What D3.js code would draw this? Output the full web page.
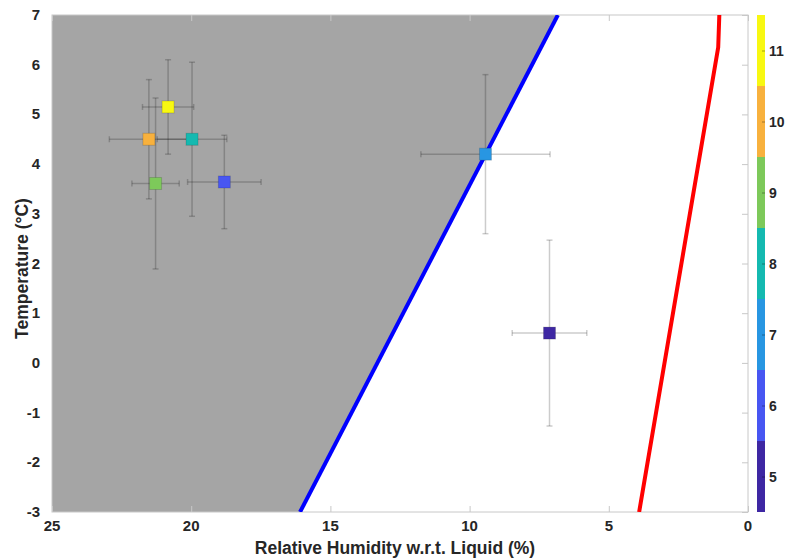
<!DOCTYPE html>
<html lang="en">
<head>
<meta charset="utf-8">
<title>RH vs Temperature</title>
<style>
  body { margin: 0; background: #fff; }
  text { font-family: "Liberation Sans", Arial, Helvetica, sans-serif; font-weight: bold; fill: #262626; }
</style>
</head>
<body>
<div id="chart"></div>
<script src="https://d3js.org/d3.v7.min.js"></script>
<script type="text/javascript">

    // point data
    var months = [5, 6, 7, 8, 9, 10, 11];
    var rhVals = [7.13, 18.81, 9.43, 19.97, 21.28, 21.52, 20.83];
    var rhErr = [1.34, 1.32, 2.32, 1.25, 0.85, 1.42, 0.92];
    var tempVals = [0.60, 3.64, 4.20, 4.50, 3.61, 4.50, 5.15];
    var tempErr = [1.87, 0.94, 1.60, 1.55, 1.72, 1.20, 0.95];

    // boundary lines
    var blueRH = [16.09, 6.83];
    var blueT = [-3, 7];
    var redRH = [3.91, 1.07, 1.03];
    var redT = [-3, 6.35, 7];

    var xTicks = [25, 20, 15, 10, 5, 0];
    var yTicks = [-3, -2, -1, 0, 1, 2, 3, 4, 5, 6, 7];
    var cbColors = ["#3e27a3", "#4856f2", "#2896e2", "#14b9b0", "#7dc95a", "#f8b13d", "#f8f812"];

    var W = 785, H = 558;
    var margin = {left: 52, right: 37, top: 15, bottom: 46};

    var svg = d3.select("#chart").append("svg")
            .attr("width", W)
            .attr("height", H);

    var x = d3.scaleLinear().domain([25, 0]).range([margin.left, W - margin.right]);
    var y = d3.scaleLinear().domain([-3, 7]).range([H - margin.bottom, margin.top]);
    var color = d3.scaleOrdinal().domain(months).range(cbColors);

    var blue = blueRH.map(function (d, i) { return [d, blueT[i]]; });
    var red = redRH.map(function (d, i) { return [d, redT[i]]; });

    // grey region left of the blue line
    var greyPoly = [[25, -3]].concat(blue).concat([[25, 7]]);
    svg.append("path")
            .attr("d", d3.line().x(function (d) { return x(d[0]); }).y(function (d) { return y(d[1]); })(greyPoly) + "Z")
            .style("fill", "#a5a5a5");

    // axes box with inward ticks
    var tickLen = 6;
    svg.append("g")
            .attr("transform", "translate(0," + y(-3) + ")")
            .call(d3.axisTop(x).tickValues(xTicks).tickSize(tickLen).tickFormat(""))
            .call(function (g) { g.select(".domain").remove(); g.selectAll("line").attr("stroke", "#c8c8c8"); });
    svg.append("g")
            .attr("transform", "translate(0," + y(7) + ")")
            .call(d3.axisBottom(x).tickValues(xTicks).tickSize(tickLen).tickFormat(""))
            .call(function (g) { g.select(".domain").remove(); g.selectAll("line").attr("stroke", "#c8c8c8"); });
    svg.append("g")
            .attr("transform", "translate(" + x(0) + ",0)")
            .call(d3.axisLeft(y).tickValues(yTicks).tickSize(tickLen).tickFormat(""))
            .call(function (g) { g.select(".domain").remove(); g.selectAll("line").attr("stroke", "#c8c8c8"); });

    svg.append("rect")
            .attr("x", x(25))
            .attr("y", y(7))
            .attr("width", x(0) - x(25))
            .attr("height", y(-3) - y(7))
            .style("fill", "none")
            .style("stroke", "#c8c8c8")
            .style("stroke-width", 1);

    // tick labels
    svg.selectAll(".xlab")
            .data(xTicks)
            .enter().append("text")
            .attr("x", function (d) { return x(d); })
            .attr("y", y(-3) + 19)
            .attr("text-anchor", "middle")
            .style("font-size", "15px")
            .text(function (d) { return d; });

    svg.selectAll(".ylab")
            .data(yTicks)
            .enter().append("text")
            .attr("x", x(25) - 12)
            .attr("y", function (d) { return y(d) + 5; })
            .attr("text-anchor", "end")
            .style("font-size", "15px")
            .text(function (d) { return d; });

    svg.append("text")
            .attr("x", (x(25) + x(0)) / 2 - 5)
            .attr("y", 554)
            .attr("text-anchor", "middle")
            .style("font-size", "17.5px")
            .text("Relative Humidity w.r.t. Liquid (%)");

    svg.append("text")
            .attr("transform", "translate(28," + ((y(7) + y(-3)) / 2 + 5) + ") rotate(-90)")
            .attr("text-anchor", "middle")
            .style("font-size", "17.5px")
            .text("Temperature (°C)");

    // lines
    var lineGen = d3.line().x(function (d) { return x(d[0]); }).y(function (d) { return y(d[1]); });
    svg.append("clipPath").attr("id", "clip").append("rect")
            .attr("x", x(25)).attr("y", y(7)).attr("width", x(0) - x(25)).attr("height", y(-3) - y(7));

    svg.append("path")
            .attr("d", lineGen(blue))
            .attr("clip-path", "url(#clip)")
            .style("fill", "none")
            .style("stroke", "#0000ff")
            .style("stroke-width", 4);

    svg.append("path")
            .attr("d", lineGen(red))
            .attr("clip-path", "url(#clip)")
            .style("fill", "none")
            .style("stroke", "#ff0000")
            .style("stroke-width", 4);

    // error bars
    var cap = 3;
    var eb = svg.append("g")
            .style("stroke", "rgba(0,0,0,0.2)")
            .style("stroke-width", 1.5);
    months.forEach(function (m, i) {
        var cx = x(rhVals[i]), cy = y(tempVals[i]);
        var x1 = x(rhVals[i] + rhErr[i]), x2 = x(rhVals[i] - rhErr[i]);
        var y1 = y(tempVals[i] + tempErr[i]), y2 = y(tempVals[i] - tempErr[i]);
        eb.append("line").attr("x1", x1).attr("x2", x2).attr("y1", cy).attr("y2", cy);
        eb.append("line").attr("x1", x1).attr("x2", x1).attr("y1", cy - cap).attr("y2", cy + cap);
        eb.append("line").attr("x1", x2).attr("x2", x2).attr("y1", cy - cap).attr("y2", cy + cap);
        eb.append("line").attr("x1", cx).attr("x2", cx).attr("y1", y1).attr("y2", y2);
        eb.append("line").attr("x1", cx - cap).attr("x2", cx + cap).attr("y1", y1).attr("y2", y1);
        eb.append("line").attr("x1", cx - cap).attr("x2", cx + cap).attr("y1", y2).attr("y2", y2);
    });

    // markers
    var sz = 12;
    svg.selectAll(".pt")
            .data(months)
            .enter().append("rect")
            .attr("class", "pt")
            .attr("x", function (d, i) { return x(rhVals[i]) - sz / 2; })
            .attr("y", function (d, i) { return y(tempVals[i]) - sz / 2; })
            .attr("width", sz)
            .attr("height", sz)
            .style("fill", function (d) { return color(d); })
            .style("stroke", "rgba(0,0,0,0.15)")
            .style("stroke-width", 1);

    // colorbar
    var cbX = 757, cbW = 8;
    var cby = d3.scaleLinear().domain([4.5, 11.5]).range([y(-3), y(7)]);
    svg.selectAll(".cb")
            .data(months)
            .enter().append("rect")
            .attr("x", cbX)
            .attr("y", function (d) { return cby(d + 0.5); })
            .attr("width", cbW)
            .attr("height", function (d) { return cby(d - 0.5) - cby(d + 0.5); })
            .style("fill", function (d) { return color(d); });

    svg.append("g")
            .attr("transform", "translate(" + (cbX + cbW) + ",0)")
            .call(d3.axisLeft(cby).tickValues(months).tickSize(3).tickFormat(""))
            .call(function (g) { g.select(".domain").remove(); g.selectAll("line").attr("stroke", "rgba(0,0,0,0.35)"); });

    svg.selectAll(".cblab")
            .data(months)
            .enter().append("text")
            .attr("x", cbX + cbW + 4)
            .attr("y", function (d) { return cby(d) + 5; })
            .style("font-size", "14px")
            .text(function (d) { return d; });

</script>
</body>
</html>
